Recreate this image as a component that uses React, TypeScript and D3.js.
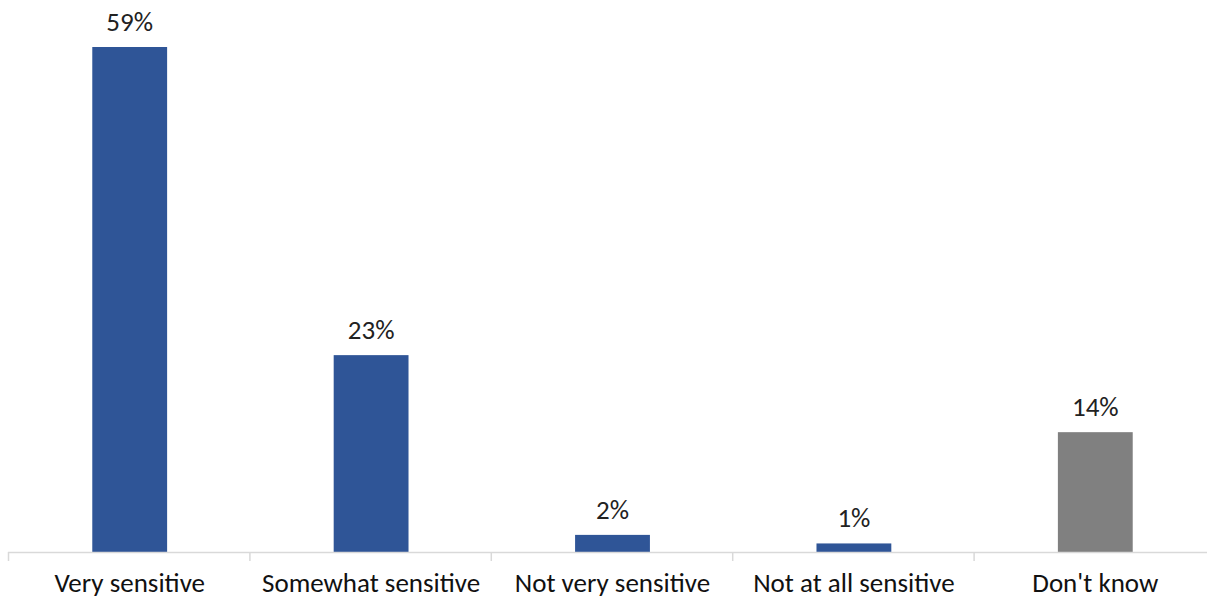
import React from "react";
import * as d3 from "d3";

const categories = ["Very sensitive", "Somewhat sensitive", "Not very sensitive", "Not at all sensitive", "Don't know"];
const values = [59, 23, 2, 1, 14];
const colors = ["#2F5597", "#2F5597", "#2F5597", "#2F5597", "#808080"];

const W = 1207;
const H = 600;

export default function App() {
  const x = d3.scaleBand<string>().domain(categories).range([9, 1216]).paddingInner(0.69).paddingOuter(0.345);
  const y = d3.scaleLinear().domain([0, 59]).range([552, 47]);
  const step = x.step();
  const x0 = 9;
  const font = "Carlito, Calibri, 'Open Sans', sans-serif";
  return (
    <svg width={W} height={H} style={{ position: "absolute", left: 0, top: 0, background: "#fff" }}>
      {categories.map((c, i) => (
        <rect key={c} x={x(c)} y={y(values[i])} width={x.bandwidth()} height={y(0) - y(values[i])} fill={colors[i]} />
      ))}
      <line x1={8} x2={W} y1={552.5} y2={552.5} stroke="#d9d9d9" strokeWidth={1.5} />
      {d3.range(categories.length).map((i) => (
        <line key={i} x1={x0 + i * step - 0.5} x2={x0 + i * step - 0.5} y1={552} y2={561} stroke="#d9d9d9" strokeWidth={1.5} />
      ))}
      {categories.map((c, i) => (
        <text key={"v" + c} x={x(c)! + x.bandwidth() / 2} y={y(values[i]) - 16} textAnchor="middle" fontFamily={font} fontSize={27} fill="#222">
          {values[i]}%
        </text>
      ))}
      {categories.map((c) => (
        <text key={"l" + c} x={x(c)! + x.bandwidth() / 2} y={592} textAnchor="middle" fontFamily={font} fontSize={27} fill="#111">
          {c}
        </text>
      ))}
    </svg>
  );
}
